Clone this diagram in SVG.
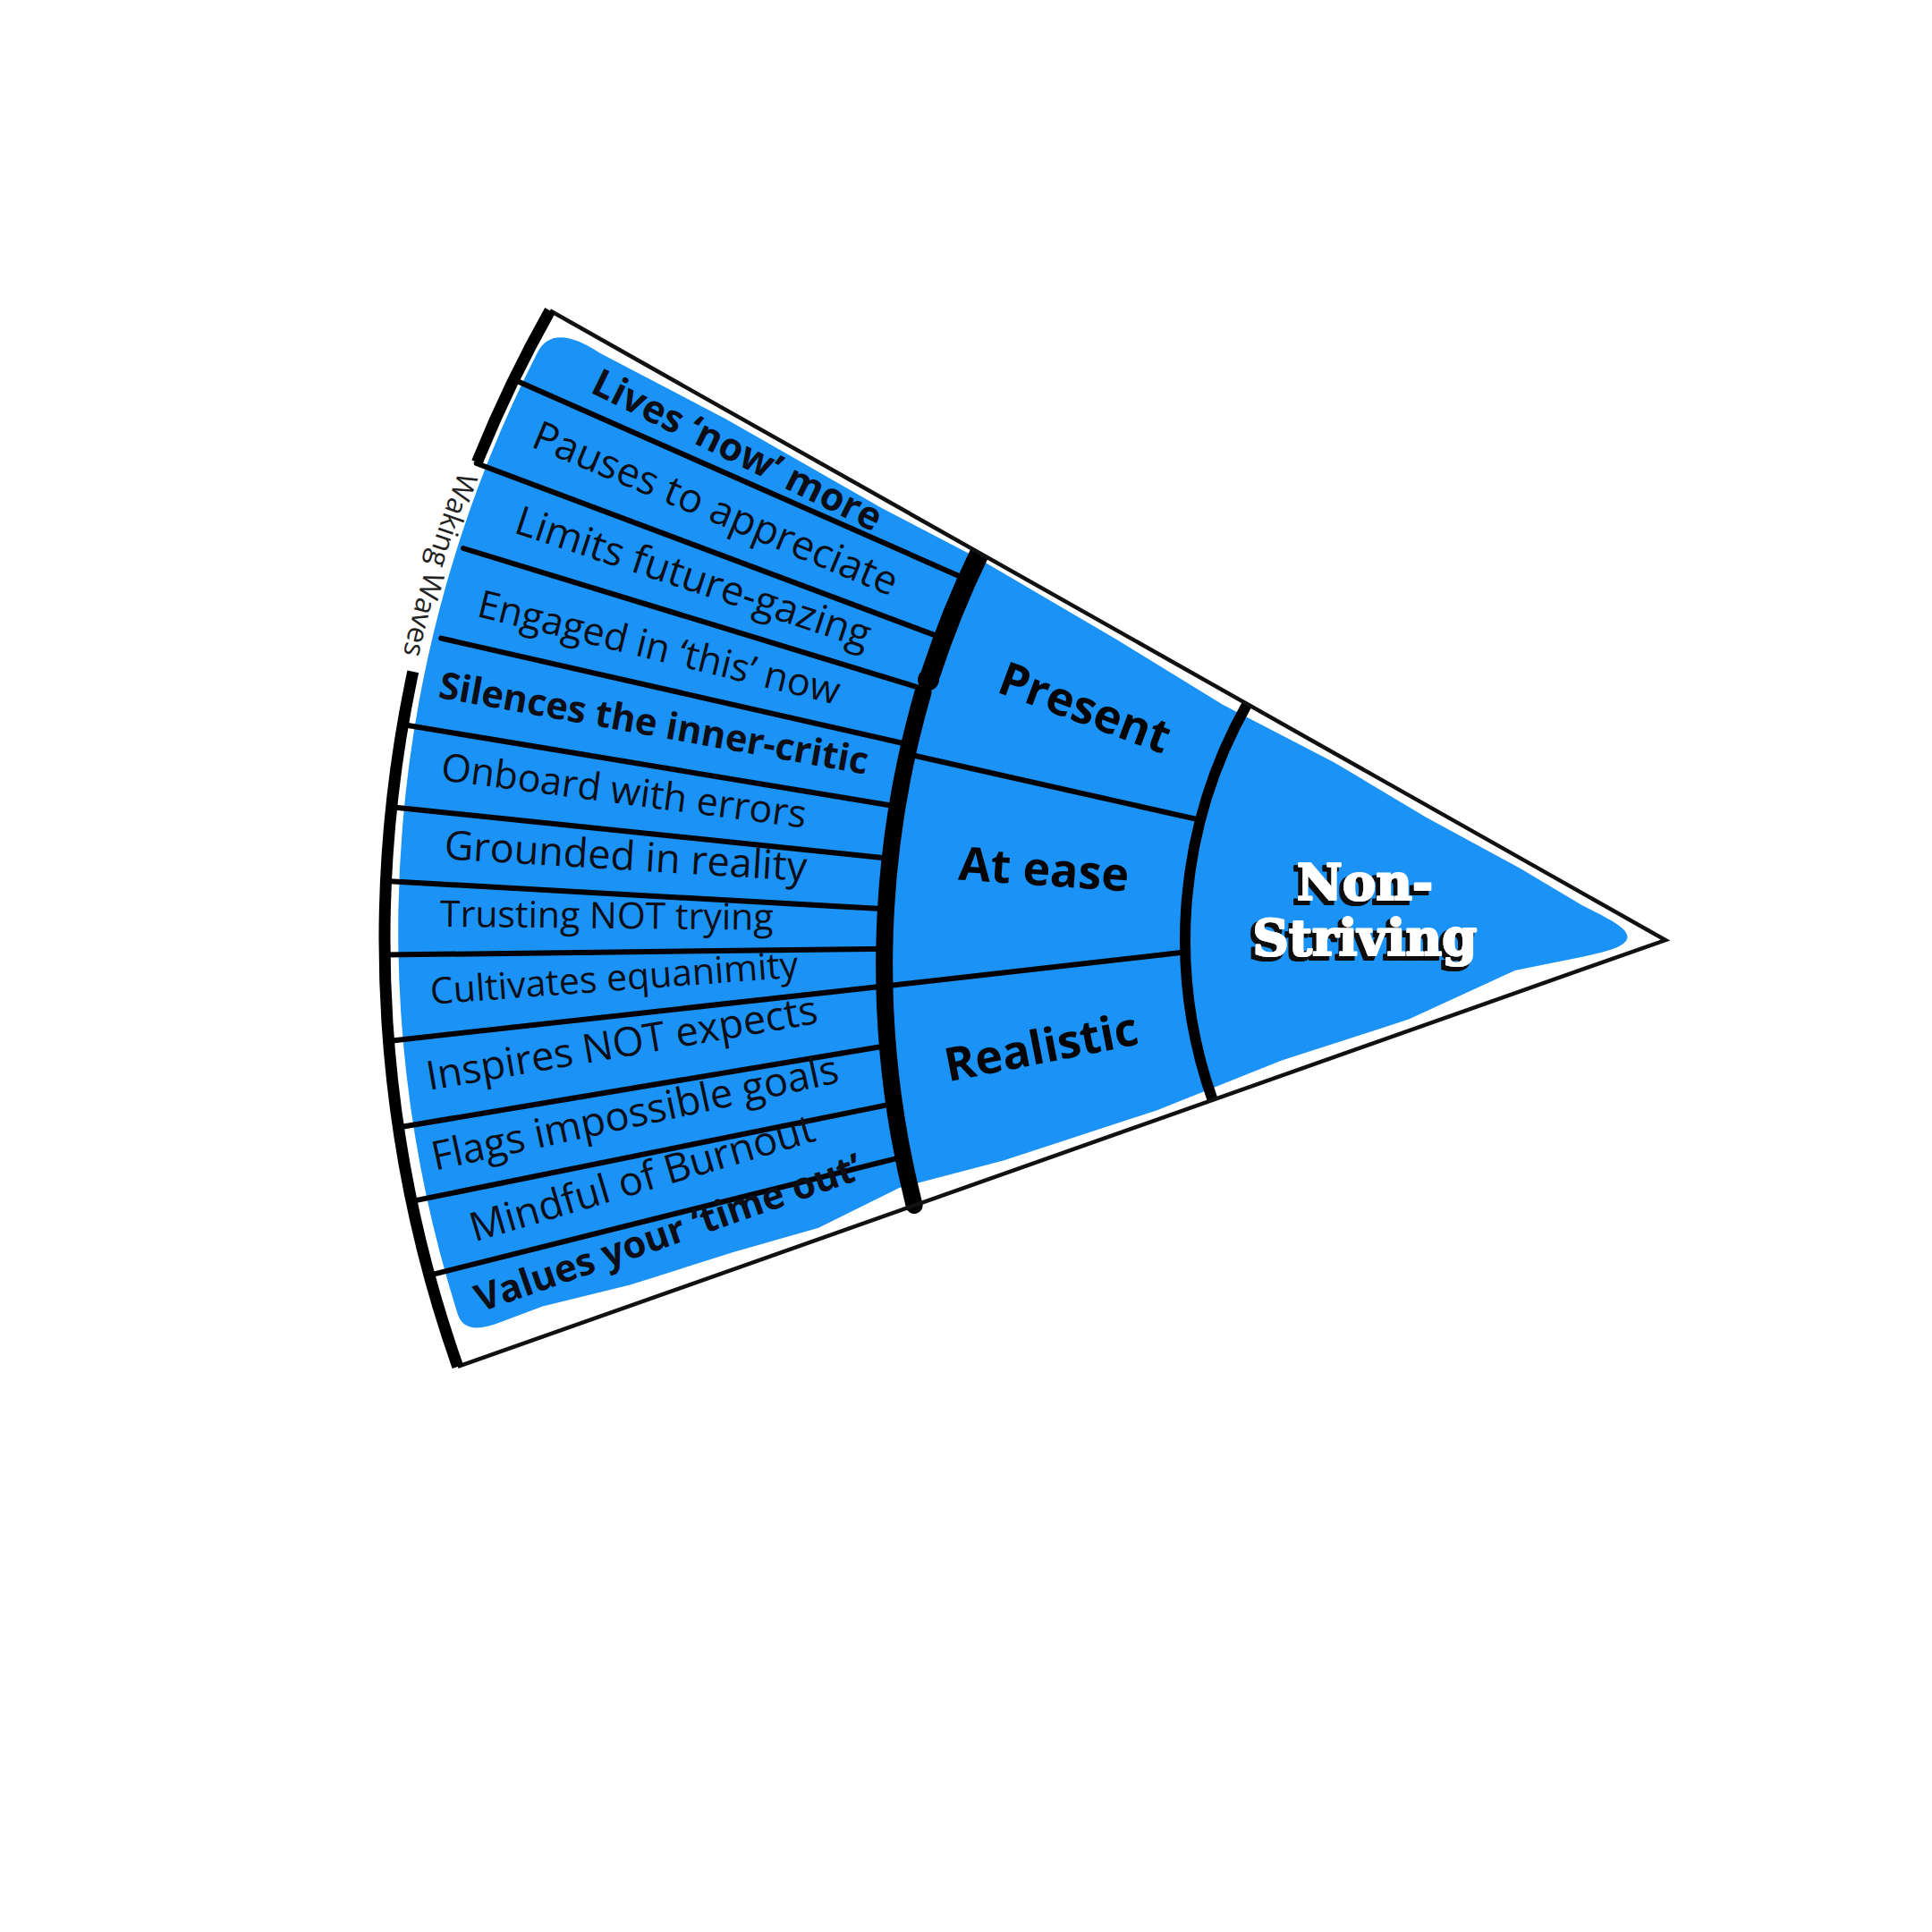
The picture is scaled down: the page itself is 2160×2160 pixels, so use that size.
<svg xmlns="http://www.w3.org/2000/svg" width="2160" height="2160" viewBox="0 0 2160 2160">
<defs>
<style>
.edge{fill:none;stroke:#111;stroke-width:4.5;stroke-linejoin:miter}
.thick{fill:none;stroke:#000;stroke-width:13}
.ring2{fill:none;stroke:#000;stroke-width:19}
.ring1{fill:none;stroke:#000;stroke-width:12}
.div{stroke:#000;stroke-width:6;stroke-linecap:round}
.row{font-family:'Open Sans','Liberation Sans',sans-serif;fill:#0d0d16}
.b{font-weight:700}
.mid{font-family:'Open Sans','Liberation Sans',sans-serif;font-weight:700;font-size:52px;fill:#050505;text-anchor:middle}
.core{font-family:'DejaVu Serif','Liberation Serif',serif;font-weight:700;font-size:56px;text-anchor:middle;fill:#fff;stroke:#fff;stroke-width:2.2;stroke-linejoin:round}
.brand{font-family:'Open Sans','Liberation Sans',sans-serif;font-size:32px;fill:#222}
</style>
<filter id="shadow" x="-20%" y="-30%" width="140%" height="160%">
<feMorphology in="SourceAlpha" operator="dilate" radius="1.2" result="d"/>
<feOffset in="d" dx="-4" dy="4" result="o"/>
<feFlood flood-color="#111"/>
<feComposite in2="o" operator="in" result="s"/>
<feMerge><feMergeNode in="s"/><feMergeNode in="SourceGraphic"/></feMerge>
</filter>
</defs>
<rect width="2160" height="2160" fill="#fff"/>
<g id="fill">
<path fill="#1a92f6" d="M 600.7,394.5 Q 618,360 670.7,394.8 L 812.5,469 L 986.2,568.2 L 1092.7,623.7 L 1248,714.7 L 1367.4,788 L 1491.8,852.4 L 1594.8,914 L 1700.3,971.2 L 1769,1012.3 C 1800,1028 1826,1040 1818,1052 C 1810,1062 1785,1066 1763,1071.1 L 1693.7,1085 L 1575.1,1139.6 L 1432.4,1185.8 L 1293,1241.4 L 1121.8,1297.5 L 1005.4,1328.1 L 915.1,1372.7 L 818.8,1400.3 L 704.4,1436.6 L 606.7,1460.4 L 560,1478 Q 520,1494 512,1470 A 1418 1418 0 0 1 600.7,394.5 Z"/>
</g>
<g id="connectors">
<line class="div" x1="574.2" y1="424.3" x2="1080" y2="647.4"/>
<line class="div" x1="532.7" y1="518" x2="1054.4" y2="713.6"/>
<line class="div" x1="518" y1="613" x2="1035.9" y2="771.4"/>
<line class="div" x1="493.2" y1="713.6" x2="1020" y2="833.4"/>
<line class="div" x1="450.2" y1="810" x2="1006.6" y2="902.3"/>
<line class="div" x1="437.5" y1="902.3" x2="998.7" y2="960.2"/>
<line class="div" x1="431.2" y1="985" x2="994.5" y2="1016.6"/>
<line class="div" x1="429.8" y1="1067.6" x2="992.8" y2="1060.7"/>
<line class="div" x1="434.2" y1="1164" x2="993.1" y2="1102"/>
<line class="div" x1="445.2" y1="1260.5" x2="996.7" y2="1168.2"/>
<line class="div" x1="459.8" y1="1343.1" x2="1004.1" y2="1232.9"/>
<line class="div" x1="479.7" y1="1425.8" x2="1014.4" y2="1292.1"/>
<line class="div" x1="1016.6" y1="843.5" x2="1339" y2="916.1"/>
<line class="div" x1="993.2" y1="1102" x2="1322.4" y2="1064.8"/>
<path class="ring1" d="M 1394.3,787.1 A 537 537 0 0 0 1355.7,1229.8"/>
<path class="ring2" style="stroke-width:22" d="M 1095.2,618.2 A 1095 1095 0 0 0 1040,755"/>
<circle cx="1038" cy="760" r="12" fill="#000"/>
<path class="ring2" style="stroke-linecap:round" d="M 1032,774 A 1095 1095 0 0 0 1022.1,1347.6"/>
<path class="edge" d="M 614.9,347.2 L 1862,1051 L 511.8,1527.9"/>
<path class="thick" d="M 614.9,347.2 A 1432 1432 0 0 0 533.4,516.9"/>
<path class="thick" d="M 461.8,750.8 A 1432 1432 0 0 0 511.8,1527.9"/>
<path id="brandArc" fill="none" d="M 530.1,485.7 A 1447 1447 0 0 0 441.6,774.9"/>
</g>
<g id="node-lives"><text class="row b" font-size="43" x="658.5" y="438.1" transform="rotate(26.2 658.5 438.1)">Lives ‘now’ more</text></g>
<g id="node-pauses"><text class="row" font-size="45" x="592.3" y="498.7" transform="rotate(22.6 592.3 498.7)">Pauses to appreciate</text></g>
<g id="node-limits"><text class="row" font-size="45" x="573.1" y="595.1" transform="rotate(18.3 573.1 595.1)">Limits future-gazing</text></g>
<g id="node-engaged"><text class="row" font-size="43" x="531.7" y="688.8" transform="rotate(13.8 531.7 688.8)">Engaged in ‘this’ now</text></g>
<g id="node-silences"><text class="row b" font-size="41.5" x="489" y="779.7" transform="rotate(10.2 489 779.7)">Silences the inner-critic</text></g>
<g id="node-onboard"><text class="row" font-size="43" x="491.8" y="872" transform="rotate(7.5 491.8 872)">Onboard with errors</text></g>
<g id="node-grounded"><text class="row" font-size="45" x="495.9" y="960.2" transform="rotate(3.5 495.9 960.2)">Grounded in reality</text></g>
<g id="node-trusting"><text class="row" font-size="41" x="491.8" y="1035.9" transform="rotate(0.6 491.8 1035.9)">Trusting NOT trying</text></g>
<g id="node-cultivates"><text class="row" font-size="41" x="482.1" y="1122.7" transform="rotate(-4.2 482.1 1122.7)">Cultivates equanimity</text></g>
<g id="node-inspires"><text class="row" font-size="45" x="479.4" y="1219.1" transform="rotate(-9.8 479.4 1219.1)">Inspires NOT expects</text></g>
<g id="node-flags"><text class="row" font-size="45" x="486.3" y="1308.7" transform="rotate(-12.3 486.3 1308.7)">Flags impossible goals</text></g>
<g id="node-mindful"><text class="row" font-size="45" x="530.4" y="1388.6" transform="rotate(-16.5 530.4 1388.6)">Mindful of Burnout</text></g>
<g id="node-values"><text class="row b" font-size="42" x="537.2" y="1467.1" transform="rotate(-19.3 537.2 1467.1)">Values your ‘time out’</text></g>
<g id="node-present"><text class="mid" x="1206.5" y="808" transform="rotate(20.5 1206.5 808)">Present</text></g>
<g id="node-atease"><text class="mid" x="1165.8" y="990" transform="rotate(3.9 1165.8 990)">At ease</text></g>
<g id="node-realistic"><text class="mid" x="1167.5" y="1188.3" transform="rotate(-11.1 1167.5 1188.3)">Realistic</text></g>
<g id="node-nonstriving" filter="url(#shadow)">
<text class="core" x="1526" y="1006">Non-</text>
<text class="core" x="1526" y="1068">Striving</text>
</g>
<g id="brand"><text class="brand"><textPath href="#brandArc" startOffset="50%" text-anchor="middle">Waking Waves</textPath></text></g>
</svg>
